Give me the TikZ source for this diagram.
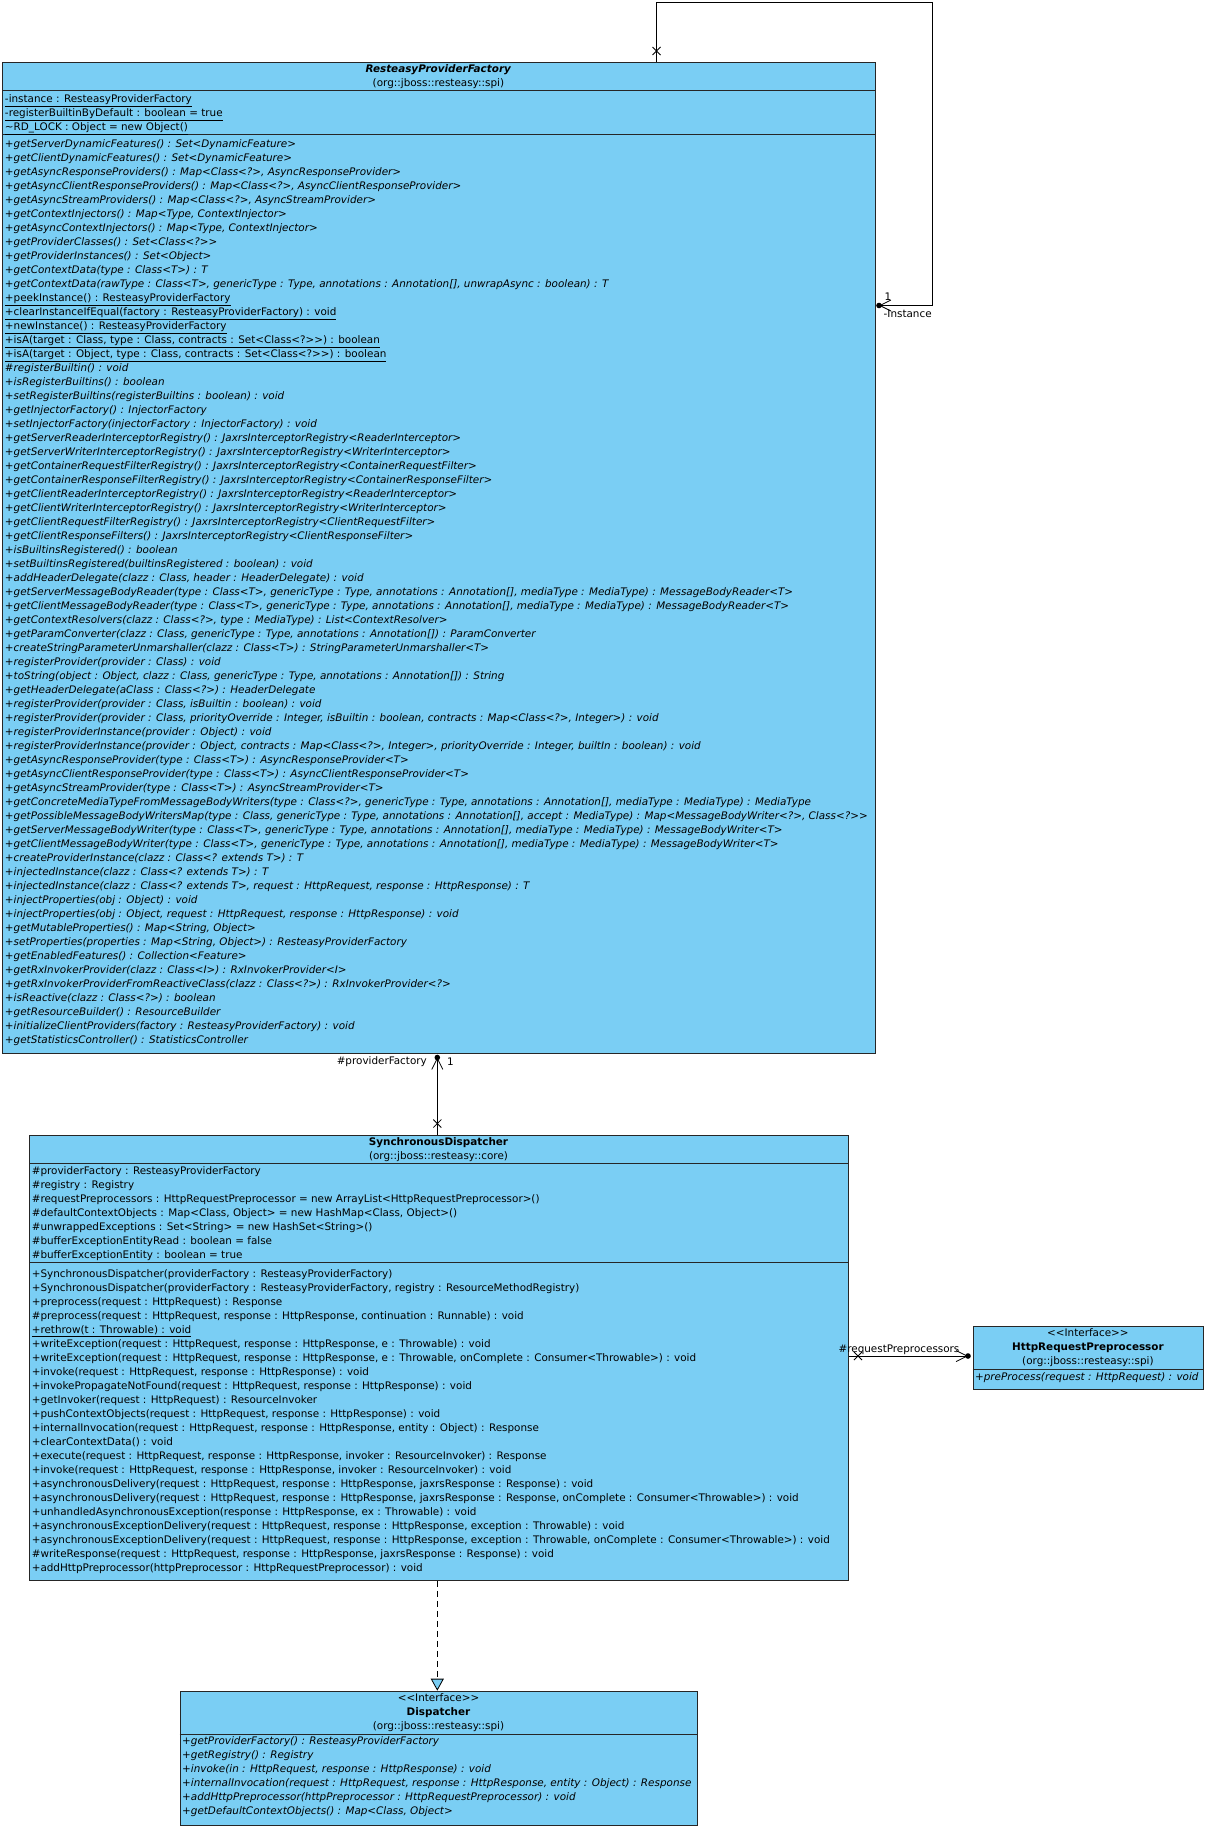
\documentclass[tikz,border=0pt]{standalone}
\usepackage{fontspec}
\setmainfont{DejaVu Sans}
\usepackage{tikz}
\usetikzlibrary{arrows.meta}
\definecolor{umlblue}{RGB}{122,206,244}
\newcommand{\ab}[1]{\strut\textit{#1}}
\newcommand{\st}[1]{\strut\underline{#1}}
\newcommand{\op}[1]{\strut#1}
\newcommand{\navx}[2]{\draw[line width=0.8pt] (#1-4,#2-4)--(#1+4,#2+4) (#1+4,#2-4)--(#1-4,#2+4);}
\tikzset{
  classbox/.style={draw=black!85,fill=umlblue,line width=0.9pt,inner sep=0pt,anchor=north west},
  members/.style={anchor=north west,align=left,inner sep=0pt},
  header/.style={anchor=north,align=center,inner sep=0pt},
  assoc/.style={line width=0.8pt,-{Straight Barb[length=11,width=11]}},
  realize/.style={line width=0.8pt,dash pattern=on 6pt off 4pt,-{Triangle[length=12,width=13,fill=umlblue]}},
  lbl/.style={inner sep=0pt}
}

\begin{document}
\begin{tikzpicture}[x=1pt,y=-1pt,font=\fontsize{10.4}{14}\selectfont]
\useasboundingbox (0,0) rectangle (1208,1829);

\node[classbox,minimum width=872.2,minimum height=991.2] (rpf) at (2.3,61.8) {};
\draw[line width=0.9pt,black!85] (2.3,90.5)--(874.5,90.5) (2.3,134.5)--(874.5,134.5);
\node[header] (rpfname) at (438.4,62.6) {\strut\textbf{\textit{ResteasyProviderFactory}}\\\strut(org::jboss::resteasy::spi)};
\node[members] (rpfattr) at (4.8,92.5) {\st{-instance : ResteasyProviderFactory}\\
\st{-registerBuiltinByDefault : boolean = true}\\
\st{\textasciitilde RD\_LOCK : Object = new Object()}};
\node[members] (rpfops) at (4.8,137.5) {\ab{+getServerDynamicFeatures() : Set<DynamicFeature>}\\
\ab{+getClientDynamicFeatures() : Set<DynamicFeature>}\\
\ab{+getAsyncResponseProviders() : Map<Class<?>, AsyncResponseProvider>}\\
\ab{+getAsyncClientResponseProviders() : Map<Class<?>, AsyncClientResponseProvider>}\\
\ab{+getAsyncStreamProviders() : Map<Class<?>, AsyncStreamProvider>}\\
\ab{+getContextInjectors() : Map<Type, ContextInjector>}\\
\ab{+getAsyncContextInjectors() : Map<Type, ContextInjector>}\\
\ab{+getProviderClasses() : Set<Class<?>{}>}\\
\ab{+getProviderInstances() : Set<Object>}\\
\ab{+getContextData(type : Class<T>) : T}\\
\ab{+getContextData(rawType : Class<T>, genericType : Type, annotations : Annotation[], unwrapAsync : boolean) : T}\\
\st{+peekInstance() : ResteasyProviderFactory}\\
\st{+clearInstanceIfEqual(factory : ResteasyProviderFactory) : void}\\
\st{+newInstance() : ResteasyProviderFactory}\\
\st{+isA(target : Class, type : Class, contracts : Set<Class<?>{}>) : boolean}\\
\st{+isA(target : Object, type : Class, contracts : Set<Class<?>{}>) : boolean}\\
\ab{\#registerBuiltin() : void}\\
\ab{+isRegisterBuiltins() : boolean}\\
\ab{+setRegisterBuiltins(registerBuiltins : boolean) : void}\\
\ab{+getInjectorFactory() : InjectorFactory}\\
\ab{+setInjectorFactory(injectorFactory : InjectorFactory) : void}\\
\ab{+getServerReaderInterceptorRegistry() : JaxrsInterceptorRegistry<ReaderInterceptor>}\\
\ab{+getServerWriterInterceptorRegistry() : JaxrsInterceptorRegistry<WriterInterceptor>}\\
\ab{+getContainerRequestFilterRegistry() : JaxrsInterceptorRegistry<ContainerRequestFilter>}\\
\ab{+getContainerResponseFilterRegistry() : JaxrsInterceptorRegistry<ContainerResponseFilter>}\\
\ab{+getClientReaderInterceptorRegistry() : JaxrsInterceptorRegistry<ReaderInterceptor>}\\
\ab{+getClientWriterInterceptorRegistry() : JaxrsInterceptorRegistry<WriterInterceptor>}\\
\ab{+getClientRequestFilterRegistry() : JaxrsInterceptorRegistry<ClientRequestFilter>}\\
\ab{+getClientResponseFilters() : JaxrsInterceptorRegistry<ClientResponseFilter>}\\
\ab{+isBuiltinsRegistered() : boolean}\\
\ab{+setBuiltinsRegistered(builtinsRegistered : boolean) : void}\\
\ab{+addHeaderDelegate(clazz : Class, header : HeaderDelegate) : void}\\
\ab{+getServerMessageBodyReader(type : Class<T>, genericType : Type, annotations : Annotation[], mediaType : MediaType) : MessageBodyReader<T>}\\
\ab{+getClientMessageBodyReader(type : Class<T>, genericType : Type, annotations : Annotation[], mediaType : MediaType) : MessageBodyReader<T>}\\
\ab{+getContextResolvers(clazz : Class<?>, type : MediaType) : List<ContextResolver>}\\
\ab{+getParamConverter(clazz : Class, genericType : Type, annotations : Annotation[]) : ParamConverter}\\
\ab{+createStringParameterUnmarshaller(clazz : Class<T>) : StringParameterUnmarshaller<T>}\\
\ab{+registerProvider(provider : Class) : void}\\
\ab{+toString(object : Object, clazz : Class, genericType : Type, annotations : Annotation[]) : String}\\
\ab{+getHeaderDelegate(aClass : Class<?>) : HeaderDelegate}\\
\ab{+registerProvider(provider : Class, isBuiltin : boolean) : void}\\
\ab{+registerProvider(provider : Class, priorityOverride : Integer, isBuiltin : boolean, contracts : Map<Class<?>, Integer>) : void}\\
\ab{+registerProviderInstance(provider : Object) : void}\\
\ab{+registerProviderInstance(provider : Object, contracts : Map<Class<?>, Integer>, priorityOverride : Integer, builtIn : boolean) : void}\\
\ab{+getAsyncResponseProvider(type : Class<T>) : AsyncResponseProvider<T>}\\
\ab{+getAsyncClientResponseProvider(type : Class<T>) : AsyncClientResponseProvider<T>}\\
\ab{+getAsyncStreamProvider(type : Class<T>) : AsyncStreamProvider<T>}\\
\ab{+getConcreteMediaTypeFromMessageBodyWriters(type : Class<?>, genericType : Type, annotations : Annotation[], mediaType : MediaType) : MediaType}\\
\ab{+getPossibleMessageBodyWritersMap(type : Class, genericType : Type, annotations : Annotation[], accept : MediaType) : Map<MessageBodyWriter<?>, Class<?>{}>}\\
\ab{+getServerMessageBodyWriter(type : Class<T>, genericType : Type, annotations : Annotation[], mediaType : MediaType) : MessageBodyWriter<T>}\\
\ab{+getClientMessageBodyWriter(type : Class<T>, genericType : Type, annotations : Annotation[], mediaType : MediaType) : MessageBodyWriter<T>}\\
\ab{+createProviderInstance(clazz : Class<? extends T>) : T}\\
\ab{+injectedInstance(clazz : Class<? extends T>) : T}\\
\ab{+injectedInstance(clazz : Class<? extends T>, request : HttpRequest, response : HttpResponse) : T}\\
\ab{+injectProperties(obj : Object) : void}\\
\ab{+injectProperties(obj : Object, request : HttpRequest, response : HttpResponse) : void}\\
\ab{+getMutableProperties() : Map<String, Object>}\\
\ab{+setProperties(properties : Map<String, Object>) : ResteasyProviderFactory}\\
\ab{+getEnabledFeatures() : Collection<Feature>}\\
\ab{+getRxInvokerProvider(clazz : Class<I>) : RxInvokerProvider<I>}\\
\ab{+getRxInvokerProviderFromReactiveClass(clazz : Class<?>) : RxInvokerProvider<?>}\\
\ab{+isReactive(clazz : Class<?>) : boolean}\\
\ab{+getResourceBuilder() : ResourceBuilder}\\
\ab{+initializeClientProviders(factory : ResteasyProviderFactory) : void}\\
\ab{+getStatisticsController() : StatisticsController}};

\node[classbox,minimum width=818.5,minimum height=445.5] (sd) at (29.2,1134.5) {};
\draw[line width=0.9pt,black!85] (29.2,1163.5)--(847.7,1163.5) (29.2,1262.8)--(847.7,1262.8);
\node[header] (sdname) at (438.5,1135.4) {\strut\textbf{SynchronousDispatcher}\\\strut(org::jboss::resteasy::core)};
\node[members] (sdattr) at (31.6,1164.5) {\op{\#providerFactory : ResteasyProviderFactory}\\
\op{\#registry : Registry}\\
\op{\#requestPreprocessors : HttpRequestPreprocessor = new ArrayList<HttpRequestPreprocessor>()}\\
\op{\#defaultContextObjects : Map<Class, Object> = new HashMap<Class, Object>()}\\
\op{\#unwrappedExceptions : Set<String> = new HashSet<String>()}\\
\op{\#bufferExceptionEntityRead : boolean = false}\\
\op{\#bufferExceptionEntity : boolean = true}};
\node[members] (sdops) at (31.6,1267.2) {\op{+SynchronousDispatcher(providerFactory : ResteasyProviderFactory)}\\
\op{+SynchronousDispatcher(providerFactory : ResteasyProviderFactory, registry : ResourceMethodRegistry)}\\
\op{+preprocess(request : HttpRequest) : Response}\\
\op{\#preprocess(request : HttpRequest, response : HttpResponse, continuation : Runnable) : void}\\
\st{+rethrow(t : Throwable) : void}\\
\op{+writeException(request : HttpRequest, response : HttpResponse, e : Throwable) : void}\\
\op{+writeException(request : HttpRequest, response : HttpResponse, e : Throwable, onComplete : Consumer<Throwable>) : void}\\
\op{+invoke(request : HttpRequest, response : HttpResponse) : void}\\
\op{+invokePropagateNotFound(request : HttpRequest, response : HttpResponse) : void}\\
\op{+getInvoker(request : HttpRequest) : ResourceInvoker}\\
\op{+pushContextObjects(request : HttpRequest, response : HttpResponse) : void}\\
\op{+internalInvocation(request : HttpRequest, response : HttpResponse, entity : Object) : Response}\\
\op{+clearContextData() : void}\\
\op{+execute(request : HttpRequest, response : HttpResponse, invoker : ResourceInvoker) : Response}\\
\op{+invoke(request : HttpRequest, response : HttpResponse, invoker : ResourceInvoker) : void}\\
\op{+asynchronousDelivery(request : HttpRequest, response : HttpResponse, jaxrsResponse : Response) : void}\\
\op{+asynchronousDelivery(request : HttpRequest, response : HttpResponse, jaxrsResponse : Response, onComplete : Consumer<Throwable>) : void}\\
\op{+unhandledAsynchronousException(response : HttpResponse, ex : Throwable) : void}\\
\op{+asynchronousExceptionDelivery(request : HttpRequest, response : HttpResponse, exception : Throwable) : void}\\
\op{+asynchronousExceptionDelivery(request : HttpRequest, response : HttpResponse, exception : Throwable, onComplete : Consumer<Throwable>) : void}\\
\op{\#writeResponse(request : HttpRequest, response : HttpResponse, jaxrsResponse : Response) : void}\\
\op{+addHttpPreprocessor(httpPreprocessor : HttpRequestPreprocessor) : void}};

\node[classbox,minimum width=230.8,minimum height=62.9] (hrp) at (972.5,1325.8) {};
\draw[line width=0.9pt,black!85] (972.5,1369)--(1203.3,1369);
\node[header] (hrpname) at (1087.9,1326.6) {\strut<{}<Interface>{}>\\\strut\textbf{HttpRequestPreprocessor}\\\strut(org::jboss::resteasy::spi)};
\node[members] (hrpops) at (974.9,1370.9) {\ab{+preProcess(request : HttpRequest) : void}};

\node[classbox,minimum width=517.7,minimum height=134.1] (disp) at (179.6,1690.7) {};
\draw[line width=0.9pt,black!85] (179.6,1734)--(697.3,1734);
\node[header] (dispname) at (438.5,1691.6) {\strut<{}<Interface>{}>\\\strut\textbf{Dispatcher}\\\strut(org::jboss::resteasy::spi)};
\node[members] (dispops) at (182,1734.9) {\ab{+getProviderFactory() : ResteasyProviderFactory}\\
\ab{+getRegistry() : Registry}\\
\ab{+invoke(in : HttpRequest, response : HttpResponse) : void}\\
\ab{+internalInvocation(request : HttpRequest, response : HttpResponse, entity : Object) : Response}\\
\ab{+addHttpPreprocessor(httpPreprocessor : HttpRequestPreprocessor) : void}\\
\ab{+getDefaultContextObjects() : Map<Class, Object>}};

\coordinate (selfa) at (656.5,61.8); \coordinate (selfb) at (879,305.5);
\draw[assoc] (selfa) |- (932.8,2.3) |- (selfb); \fill (selfb) circle (2.8); \navx{656.5}{51}
\node[lbl,anchor=west] (instmult) at (884.5,297) {1};
\node[lbl,anchor=west] (instrole) at (883.5,313.6) {-Instance};

\coordinate (pfa) at (437.3,1057.5);
\draw[assoc] (sd.north -| pfa) -- (pfa); \fill (pfa) circle (2.8); \navx{437.3}{1123.5}
\node[lbl,anchor=east] (pfrole) at (427,1061.5) {\#providerFactory};
\node[lbl,anchor=west] (pfmult) at (447,1062) {1};

\coordinate (rqb) at (968,1356);
\draw[assoc] (sd.east |- rqb) -- (rqb); \fill (rqb) circle (2.8); \navx{858}{1356}
\node[lbl] (rqrole) at (899,1350) {\#requestPreprocessors};

\draw[realize] (sd.south -| pfa) -- (disp.north -| pfa);
\end{tikzpicture}
\end{document}
